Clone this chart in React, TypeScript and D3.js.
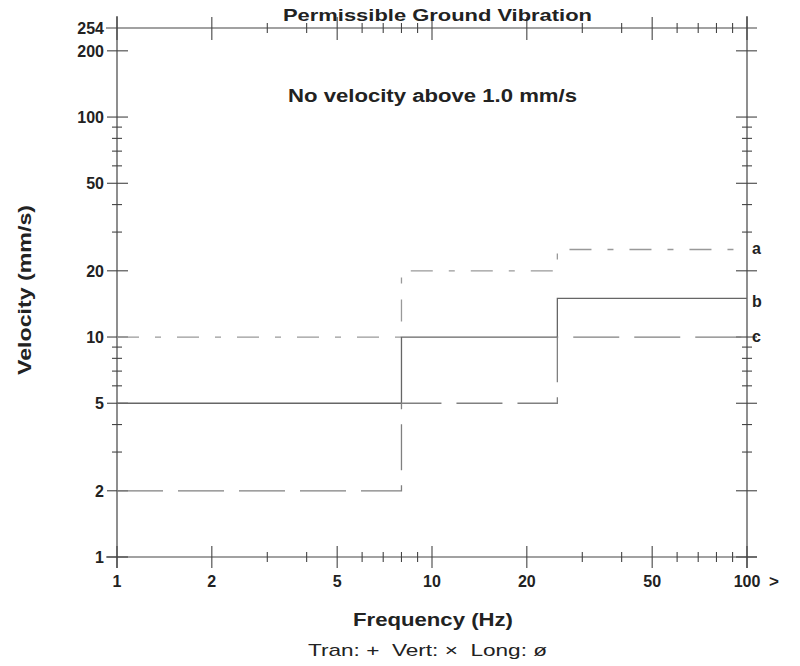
import { useMemo } from 'react'
import * as d3 from 'd3'

// step limits: levels hold between the frequency breakpoints
const breakFreqs = [1, 8, 25, 100]
const levelsA = [10, 20, 25]
const levelsB = [5, 10, 15]
const levelsC = [2, 5, 10]

const xMajor = [1, 2, 5, 10, 20, 50, 100]
const xMinor = [3, 4, 6, 7, 8, 9, 30, 40, 60, 70, 80, 90]
const yMajor = [1, 2, 5, 10, 20, 50, 100, 200]
const yMinor = [3, 4, 6, 7, 8, 9, 30, 40, 60, 70, 80, 90]
const yLabels = [1, 2, 5, 10, 20, 50, 100, 200, 254]

const seriesNames = ['a', 'b', 'c']

const W = 800
const H = 666

export default function App() {
  const x = d3.scaleLog().domain([1, 100]).range([117, 747])
  const y = d3.scaleLog().domain([1, 254]).range([557, 28])

  const lines = useMemo(() => {
    const mk = (levels: number[]) => {
      const pts = breakFreqs.map((f, i) => ({ f, v: levels[Math.min(i, levels.length - 1)] }))
      return d3.line<{ f: number; v: number }>()
        .x(d => x(d.f))
        .y(d => y(d.v))
        .curve(d3.curveStepAfter)(pts) || ''
    }
    return [mk(levelsA), mk(levelsB), mk(levelsC)]
  }, [])

  const styles = [
    { stroke: '#999', dash: '22,16,6,16' },
    { stroke: '#666', dash: null },
    { stroke: '#808080', dash: '46,15' },
  ]
  const lastLevels = [levelsA, levelsB, levelsC].map(l => l[l.length - 1])
  const labelDy = [5, 9, 5]

  const axisCol = '#444'
  const txtCol = '#222'
  const font = 'Arial, "Liberation Sans", sans-serif'

  const x0 = x(1), x1 = x(100), y0 = y(1), y1 = y(254)

  return (
    <svg width={W} height={H} style={{ position: 'absolute', left: 0, top: 0, background: '#fff' }}
      fontFamily={font}>
      {/* frame */}
      <g stroke={axisCol} strokeWidth={1.2} fill="none">
        <line x1={x0} x2={x0} y1={16} y2={568} />
        <line x1={x1} x2={x1} y1={16} y2={568} />
        <line x1={106} x2={757} y1={y0} y2={y0} />
        <line x1={106} x2={757} y1={y1} y2={y1} />
      </g>

      {/* y ticks, left & right */}
      <g stroke={axisCol} strokeWidth={1.1}>
        {yMajor.map(v => (
          <g key={'ym' + v}>
            <line x1={x0 - 10} x2={x0 + 11} y1={y(v)} y2={y(v)} />
            <line x1={x1 - 11} x2={x1 + 10} y1={y(v)} y2={y(v)} />
          </g>
        ))}
        {yMinor.map(v => (
          <g key={'yn' + v}>
            <line x1={x0 - 5} x2={x0 + 5} y1={y(v)} y2={y(v)} />
            <line x1={x1 - 5} x2={x1 + 5} y1={y(v)} y2={y(v)} />
          </g>
        ))}
      </g>

      {/* x ticks, bottom & top */}
      <g stroke={axisCol} strokeWidth={1.1}>
        {xMajor.map(v => (
          <g key={'xm' + v}>
            <line x1={x(v)} x2={x(v)} y1={y0 - 11} y2={y0 + 11} />
            <line x1={x(v)} x2={x(v)} y1={y1 - 11} y2={y1 + 12} />
          </g>
        ))}
        {xMinor.map(v => (
          <g key={'xn' + v}>
            <line x1={x(v)} x2={x(v)} y1={y0 - 5} y2={y0 + 5} />
            <line x1={x(v)} x2={x(v)} y1={y1 - 5} y2={y1 + 5} />
          </g>
        ))}
      </g>

      {/* limit curves */}
      {lines.map((d, i) => (
        <path key={i} d={d} fill="none" stroke={styles[i].stroke} strokeWidth={1.3}
          strokeDasharray={styles[i].dash || undefined} />
      ))}
      {seriesNames.map((n, i) => (
        <text key={n} x={752} y={y(lastLevels[i]) + labelDy[i]} fontSize={16} fontWeight="bold" fill={txtCol}>{n}</text>
      ))}

      {/* tick labels */}
      <g fontSize={16} fontWeight="bold" fill={txtCol}>
        {yLabels.map(v => (
          <text key={'yl' + v} x={104} y={y(v) + 6} textAnchor="end">{v}</text>
        ))}
        {xMajor.map(v => (
          <text key={'xl' + v} x={x(v)} y={587} textAnchor="middle">{v}</text>
        ))}
        <text x={774} y={587} textAnchor="middle" fontSize={17}>&gt;</text>
      </g>

      {/* titles */}
      <text x={283} y={21} fontSize={17} fontWeight="bold" fill={txtCol}
        textLength={309} lengthAdjust="spacingAndGlyphs">Permissible Ground Vibration</text>
      <text x={288} y={102} fontSize={18} fontWeight="bold" fill={txtCol}
        textLength={289} lengthAdjust="spacingAndGlyphs">No velocity above 1.0 mm/s</text>
      <text x={353} y={626} fontSize={18} fontWeight="bold" fill={txtCol}
        textLength={160} lengthAdjust="spacingAndGlyphs">Frequency (Hz)</text>
      <text x={308} y={656} fontSize={17} fill={txtCol} style={{ whiteSpace: 'pre' }}
        textLength={239} lengthAdjust="spacingAndGlyphs">{'Tran: +  Vert: \u00d7  Long: \u00f8'}</text>
      <text transform="translate(31,290) rotate(-90)" textAnchor="middle" fontSize={18} fontWeight="bold"
        fill={txtCol} textLength={170} lengthAdjust="spacingAndGlyphs">Velocity (mm/s)</text>
    </svg>
  )
}
